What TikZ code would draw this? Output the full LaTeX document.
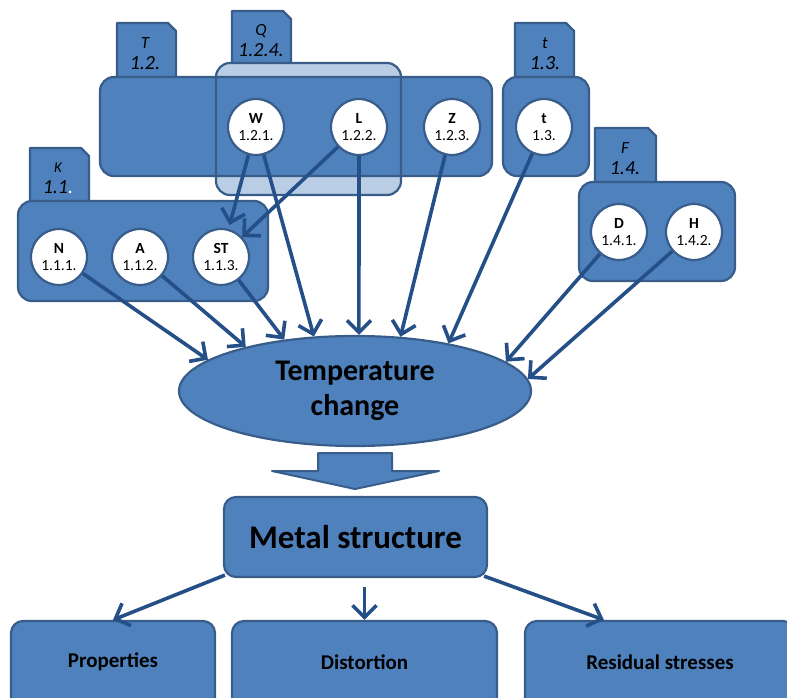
\documentclass[tikz,border=0pt]{standalone}
\usepackage{fontspec}
\setmainfont{Carlito}
\usetikzlibrary{arrows.meta,positioning,shapes.geometric,calc}
\definecolor{boxblue}{HTML}{4F81BD}
\definecolor{edgeblue}{HTML}{385D8A}
\definecolor{paleblue}{HTML}{B9CDE5}
\definecolor{arrowblue}{HTML}{254F87}

\begin{document}
\begin{tikzpicture}[x=1pt,y=-1pt,
    group/.style={draw=edgeblue,fill=boxblue,line width=2.2pt,rounded corners=14pt,inner sep=0pt},
    tabfill/.style={draw=edgeblue,fill=boxblue,line width=2.2pt,line join=round},
    tablbl/.style={align=center,inner sep=0pt,font=\fontsize{17}{21}\selectfont\itshape},
    factor/.style={circle,draw=edgeblue,fill=white,line width=2.2pt,minimum size=56pt,inner sep=0pt,align=center,font=\fontsize{15.5}{17}\selectfont},
    result/.style={draw=edgeblue,fill=boxblue,line width=2.2pt,rounded corners=12pt,font=\fontsize{22}{24}\selectfont\bfseries},
    arrow/.style={-{Straight Barb[length=12pt,width=24pt]},line width=3.6pt,draw=arrowblue}
  ]
    \useasboundingbox (0,0) rectangle (787,698);
    % Q group background
    \node[group,draw=none,fill=paleblue,minimum width=185pt,minimum height=132pt] (Qgrp) at (308.5,129) {};
    % tabs
    \draw[tabfill] (117,78) -- (117,23) -- (168,23) -- (176,31) -- (176,78);
    \draw[tabfill] (232,64) -- (232,11) -- (283,11) -- (291,19) -- (291,64);
    \draw[tabfill] (515,78) -- (515,23) -- (566,23) -- (574,31) -- (574,78);
    \draw[tabfill] (595,183) -- (595,128) -- (648,128) -- (656,136) -- (656,183);
    \draw[tabfill] (30,202) -- (30,148) -- (81,148) -- (89,156) -- (89,202);
    % groups
    \node[group,minimum width=392pt,minimum height=99pt] (Tgrp) at (296,126.5) {};
    \node[group,fill=none,minimum width=185pt,minimum height=132pt] at (Qgrp) {};
    \node[group,minimum width=86pt,minimum height=99pt] (tgrp) at (546,126.5) {};
    \node[group,minimum width=156pt,minimum height=99pt] (Fgrp) at (657,231.5) {};
    \node[group,minimum width=250pt,minimum height=100pt] (Kgrp) at (143,251) {};
    % tab labels
    \node[tablbl] (Tlbl) at (145,54) {T\\{\fontsize{20}{21}\selectfont 1.2.}};
    \node[tablbl] (Qlbl) at (261,41) {Q\\{\fontsize{20}{21}\selectfont 1.2.4.}};
    \node[tablbl] (tlbl) at (545,54) {t\\{\fontsize{20}{21}\selectfont 1.3.}};
    \node[tablbl] (Flbl) at (625,159) {F\\{\fontsize{20}{21}\selectfont 1.4.}};
    \node[tablbl] (Klbl) at (58,178) {{\fontsize{15}{15}\selectfont K}\\{\fontsize{20}{21}\selectfont 1.1{\color{white}.}}};
    % factors
    \node[factor] (W) at (256,127) {\textbf{W}\\1.2.1.};
    \node[factor] (L) at (359,127) {\textbf{L}\\1.2.2.};
    \node[factor] (Z) at (452,127) {\textbf{Z}\\1.2.3.};
    \node[factor] (t) at (544,127) {\textbf{t}\\1.3.};
    \node[factor] (D) at (619,232) {\textbf{D}\\1.4.1.};
    \node[factor] (H) at (694,232) {\textbf{H}\\1.4.2.};
    \node[factor] (N) at (59,257) {\textbf{N}\\1.1.1.};
    \node[factor] (A) at (140,257) {\textbf{A}\\1.1.2.};
    \node[factor] (ST) at (221,257) {\textbf{ST}\\1.1.3.};
    % centre
    \node[ellipse,draw=edgeblue,fill=boxblue,line width=2.2pt,minimum width=352pt,minimum height=110pt,align=center,
      font=\fontsize{30}{35}\selectfont\bfseries] (temp) at (355,391) {Temperature\\change};
    \draw[draw=edgeblue,fill=boxblue,line width=2pt,line join=round]
      (318,453) -- (392,453) -- (392,471) -- (439,471) -- (355,489) -- (272,471) -- (318,471) -- cycle;
    \node[result,minimum width=263pt,minimum height=80pt,font=\fontsize{33}{36}\selectfont\bfseries] (metal) at (355.5,537) {Metal structure};
    \node[result,minimum width=204pt,minimum height=90pt] (prop) at (113,666) {};
    \node[result,minimum width=265pt,minimum height=90pt] (dist) at (364.5,666) {};
    \node[result,minimum width=270pt,minimum height=90pt] (resid) at (660,666) {};
    \node[font=\fontsize{21}{24}\selectfont\bfseries] (proptxt) at (113,662) {Properties};
    \node[font=\fontsize{21}{24}\selectfont\bfseries] (disttxt) at (364.5,662) {Distortion};
    \node[font=\fontsize{21}{24}\selectfont\bfseries] (residtxt) at (660,662) {Residual stresses};
    % connectors
    \draw[arrow,shorten >=4pt] (W) -- (ST);
    \draw[arrow] (L) -- (ST);
    \draw[arrow] (N) -- (temp.168);
    \draw[arrow] (A) -- (temp.158);
    \draw[arrow] (ST) -- (temp.144);
    \draw[arrow] (W) -- (temp.127);
    \draw[arrow] (L) -- (temp.86);
    \draw[arrow] (Z) -- (temp.50);
    \draw[arrow] (t) -- (temp.27);
    \draw[arrow] (D) -- (temp.11);
    \draw[arrow] (H) -- (temp.4);
    \draw[arrow] ($(metal.south west)+(2,-3)$) -- (prop.north);
    \draw[arrow] ($(dist.north)+(0,-33)$) -- (dist.north);
    \draw[arrow] ($(metal.south east)+(-4,-2)$) -- ($(resid.north west)+(80,0)$);
  \end{tikzpicture}
\end{document}
